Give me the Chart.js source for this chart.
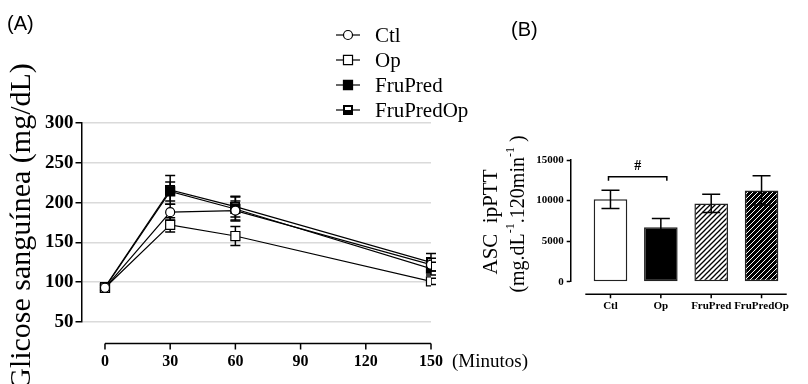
<!DOCTYPE html>
<html>
<head>
<meta charset="utf-8">
<script src="https://cdn.jsdelivr.net/npm/chart.js@4.4.0/dist/chart.umd.min.js"></script>
<style>
  body { margin: 0; background: #fff; width: 808px; height: 384px; position: relative; overflow: hidden; }
  #chartA { position: absolute; left: 0; top: 0; }
  #chartB { position: absolute; left: 480px; top: 0; }
</style>
</head>
<body>
<canvas id="chartA" width="560" height="384"></canvas>
<canvas id="chartB" width="328" height="384"></canvas>
<script>
// ---- data ----
const groups = ["Ctl", "Op", "FruPred", "FruPredOp"];

// (A) glucose tolerance curve
const minutes = [0, 30, 60, 150];
const timeTicks = [0, 30, 60, 90, 120, 150];
const glucoseTicks = [50, 100, 150, 200, 250, 300];
const ctlMean = [93, 188, 190, 122];
const ctlErr = [3, 10, 12, 8];
const opMean = [93, 172, 158, 101];
const opErr = [3, 9, 12, 4];
const fruPredMean = [93, 214, 192, 117];
const fruPredErr = [3, 12, 15, 8];
const fruPredOpMean = [94, 216, 195, 125];
const fruPredOpErr = [3, 18, 13, 11];

// (B) area under the curve
const aucMean = [10150, 6700, 9650, 11250];
const aucErr = [1130, 1100, 1130, 1800];
const aucTicks = [0, 5000, 10000, 15000];
const sigPairs = [[0, 1, "#", 12950]];

const SERIF = "'Liberation Serif', 'Times New Roman', serif";
const SANS = "'Liberation Sans', Arial, sans-serif";
Chart.defaults.font.family = SERIF;
Chart.defaults.color = "#000";

// half black / half white square marker for FruPredOp
function halfSquare() {
  const c = document.createElement("canvas");
  c.width = 10; c.height = 10;
  const g = c.getContext("2d");
  g.fillStyle = "#000";
  g.fillRect(0, 0, 10, 10);
  g.fillStyle = "#fff";
  g.fillRect(2, 2, 6, 3);
  return c;
}
const halfMarker = halfSquare();

const seriesA = [
  { mean: ctlMean, err: ctlErr, style: "circle", radius: 4.5, fill: "#fff" },
  { mean: opMean, err: opErr, style: "rect", radius: 6.4, fill: "#fff" },
  { mean: fruPredMean, err: fruPredErr, style: "rect", radius: 6.4, fill: "#000" },
  { mean: fruPredOpMean, err: fruPredOpErr, style: halfMarker, radius: 5, fill: "#000" },
];

const errorBarsA = {
  id: "errorBarsA",
  beforeDatasetsDraw(chart) {
    const ctx = chart.ctx;
    const x = chart.scales.x, y = chart.scales.y;
    ctx.save();
    ctx.strokeStyle = "#000";
    ctx.lineWidth = 1.5;
    seriesA.forEach((s) => {
      minutes.forEach((m, i) => {
        const px = x.getPixelForValue(m);
        const top = y.getPixelForValue(s.mean[i] + s.err[i]);
        const bot = y.getPixelForValue(s.mean[i] - s.err[i]);
        ctx.beginPath();
        ctx.moveTo(px, top); ctx.lineTo(px, bot);
        ctx.moveTo(px - 5, top); ctx.lineTo(px + 5, top);
        ctx.moveTo(px - 5, bot); ctx.lineTo(px + 5, bot);
        ctx.stroke();
      });
    });
    ctx.restore();
  },
};

const decorA = {
  id: "decorA",
  afterDraw(chart) {
    const ctx = chart.ctx;
    const x = chart.scales.x;
    const area = chart.chartArea;
    ctx.save();
    // panel label
    ctx.fillStyle = "#000";
    ctx.font = "20px " + SANS;
    ctx.textBaseline = "middle";
    ctx.textAlign = "left";
    ctx.fillText("(A)", 7, 24);

    // detached x axis
    const axisY = area.bottom + 21.5;
    ctx.strokeStyle = "#000";
    ctx.lineWidth = 1.5;
    ctx.beginPath();
    ctx.moveTo(x.getPixelForValue(timeTicks[0]), axisY);
    ctx.lineTo(x.getPixelForValue(timeTicks[timeTicks.length - 1]), axisY);
    timeTicks.forEach((t) => {
      const px = x.getPixelForValue(t);
      ctx.moveTo(px, axisY);
      ctx.lineTo(px, axisY + 6);
    });
    ctx.stroke();
    ctx.font = "19px " + SERIF;
    ctx.fillText("(Minutos)", 452, 362);

    // y title
    ctx.save();
    ctx.translate(22, (area.top + area.bottom) / 2 + 4);
    ctx.rotate(-Math.PI / 2);
    ctx.textAlign = "center";
    ctx.font = "30px " + SERIF;
    ctx.fillText("Glicose sanguínea (mg/dL)", 0, 0);
    ctx.restore();

    // legend
    const rows = [35, 60, 85, 110];
    groups.forEach((name, i) => {
      const s = seriesA[i];
      const ly = rows[i];
      ctx.strokeStyle = "#000";
      ctx.lineWidth = 1.2;
      ctx.beginPath();
      ctx.moveTo(336, ly); ctx.lineTo(360, ly);
      ctx.stroke();
      ctx.fillStyle = s.fill;
      Chart.helpers.drawPoint(ctx, { pointStyle: s.style, radius: s.radius, rotation: 0, borderWidth: 1.2 }, 348, ly);
      ctx.fillStyle = "#000";
      ctx.font = "21px " + SERIF;
      ctx.textAlign = "left";
      ctx.fillText(name, 375, ly + 1);
    });
    ctx.restore();
  },
};

new Chart(document.getElementById("chartA"), {
  type: "line",
  data: {
    datasets: seriesA.map((s, k) => ({
      label: groups[k],
      data: minutes.map((m, i) => ({ x: m, y: s.mean[i] })),
      borderColor: "#000",
      borderWidth: 1.2,
      pointStyle: s.style,
      pointRadius: s.radius,
      pointBackgroundColor: s.fill,
      pointBorderColor: "#000",
      pointBorderWidth: 1.2,
      tension: 0,
    })),
  },
  options: {
    responsive: false,
    animation: false,
    devicePixelRatio: 1,
    layout: { padding: { top: 123, right: 129, left: 0, bottom: 0 } },
    plugins: { legend: { display: false }, tooltip: { enabled: false } },
    scales: {
      x: {
        type: "linear",
        min: -10.8,
        max: 150,
        grid: { display: false, drawTicks: false },
        border: { display: false },
        afterBuildTicks: (scale) => { scale.ticks = timeTicks.map((v) => ({ value: v })); },
        afterFit: (scale) => { scale.height = 62; },
        ticks: { padding: 30, autoSkip: false, maxRotation: 0, font: { size: 16, weight: "bold" } },
      },
      y: {
        min: 50,
        max: 300,
        grid: { color: "#dadada", lineWidth: 1.5, tickLength: 6, tickColor: "#000", tickWidth: 1.5 },
        border: { display: true, color: "#000", width: 1.5 },
        afterBuildTicks: (scale) => { scale.ticks = glucoseTicks.map((v) => ({ value: v })); },
        afterFit: (scale) => { scale.width = 81.5; },
        ticks: { padding: 2, font: { size: 19, weight: "bold" } },
      },
    },
  },
  plugins: [errorBarsA, decorA],
});

// ---- panel B ----
const ctxB = document.getElementById("chartB").getContext("2d");
function hatch(bg, fg, lw) {
  const s = 5;
  const c = document.createElement("canvas");
  c.width = s; c.height = s;
  const g = c.getContext("2d");
  g.fillStyle = bg;
  g.fillRect(0, 0, s, s);
  g.strokeStyle = fg;
  g.lineWidth = lw;
  g.beginPath();
  g.moveTo(-1, s + 1); g.lineTo(s + 1, -1);
  g.moveTo(-s / 2, s / 2); g.lineTo(s / 2, -s / 2);
  g.moveTo(s / 2, s * 1.5); g.lineTo(s * 1.5, s / 2);
  g.stroke();
  return ctxB.createPattern(c, "repeat");
}
const barFills = ["#fff", "#000", hatch("#fff", "#000", 1.3), hatch("#000", "#fff", 1)];

const errorBarsB = {
  id: "errorBarsB",
  afterDatasetsDraw(chart) {
    const ctx = chart.ctx;
    const x = chart.scales.x, y = chart.scales.y;
    ctx.save();
    ctx.strokeStyle = "#000";
    ctx.lineWidth = 1.5;
    aucMean.forEach((v, i) => {
      const px = x.getPixelForValue(i + 1);
      const top = y.getPixelForValue(v + aucErr[i]);
      const bot = y.getPixelForValue(v - aucErr[i]);
      ctx.beginPath();
      ctx.moveTo(px, top); ctx.lineTo(px, bot);
      ctx.moveTo(px - 9, top); ctx.lineTo(px + 9, top);
      ctx.moveTo(px - 9, bot); ctx.lineTo(px + 9, bot);
      ctx.stroke();
    });
    ctx.restore();
  },
};

const decorB = {
  id: "decorB",
  afterDraw(chart) {
    const ctx = chart.ctx;
    const x = chart.scales.x, y = chart.scales.y;
    const area = chart.chartArea;
    ctx.save();
    ctx.fillStyle = "#000";
    ctx.font = "20px " + SANS;
    ctx.textBaseline = "middle";
    ctx.textAlign = "left";
    ctx.fillText("(B)", 31, 30);

    // detached x axis
    const axisY = area.bottom + 12.6;
    ctx.strokeStyle = "#000";
    ctx.lineWidth = 1.5;
    ctx.beginPath();
    ctx.moveTo(x.getPixelForValue(0.5), axisY);
    ctx.lineTo(x.getPixelForValue(groups.length + 0.5), axisY);
    groups.forEach((g, i) => {
      const px = x.getPixelForValue(i + 1);
      ctx.moveTo(px, axisY);
      ctx.lineTo(px, axisY + 4);
    });
    ctx.stroke();

    // significance bracket
    sigPairs.forEach(([a, b, label, val]) => {
      const x1 = x.getPixelForValue(a + 1) - 2;
      const x2 = x.getPixelForValue(b + 1) + 6;
      const py = y.getPixelForValue(val);
      ctx.beginPath();
      ctx.moveTo(x1, py + 4); ctx.lineTo(x1, py); ctx.lineTo(x2, py); ctx.lineTo(x2, py + 4);
      ctx.stroke();
      ctx.textAlign = "center";
      ctx.font = "bold 14px " + SERIF;
      ctx.fillText(label, (x1 + x2) / 2, py - 10);
    });

    // y title, two lines
    ctx.save();
    ctx.translate(11, 222);
    ctx.rotate(-Math.PI / 2);
    ctx.textAlign = "center";
    ctx.font = "21px " + SERIF;
    ctx.fillText("ASC  ipPTT", 0, 0);
    ctx.restore();

    const parts = [
      ["(mg.dL", false], ["-1", true], [".120min", false], ["-1", true], [" )", false],
    ];
    const big = "20px " + SERIF, small = "12px " + SERIF;
    let total = 0;
    parts.forEach(([t, sup]) => { ctx.font = sup ? small : big; total += ctx.measureText(t).width; });
    ctx.save();
    ctx.translate(39, 214);
    ctx.rotate(-Math.PI / 2);
    ctx.textAlign = "left";
    let cx = -total / 2;
    parts.forEach(([t, sup]) => {
      ctx.font = sup ? small : big;
      ctx.fillText(t, cx, sup ? -8 : 0);
      cx += ctx.measureText(t).width;
    });
    ctx.restore();
    ctx.restore();
  },
};

new Chart(ctxB, {
  type: "bar",
  data: {
    datasets: [{
      data: aucMean.map((v, i) => ({ x: i + 1, y: v })),
      backgroundColor: barFills,
      borderColor: "#222",
      borderWidth: 1.5,
      borderSkipped: false,
      barPercentage: 0.667,
      categoryPercentage: 1,
    }],
  },
  options: {
    responsive: false,
    animation: false,
    devicePixelRatio: 1,
    layout: { padding: { top: 160, right: 9, left: 0, bottom: 0 } },
    plugins: { legend: { display: false }, tooltip: { enabled: false } },
    scales: {
      x: {
        type: "linear",
        offset: false,
        min: 0.21,
        max: 4.5,
        grid: { display: false, drawTicks: false },
        border: { display: false },
        afterBuildTicks: (scale) => { scale.ticks = groups.map((g, i) => ({ value: i + 1 })); },
        afterFit: (scale) => { scale.height = 102.3; },
        ticks: {
          padding: 18,
          autoSkip: false,
          maxRotation: 0,
          font: { size: 11, weight: "bold" },
          callback: (v) => groups[v - 1],
        },
      },
      y: {
        min: 0,
        max: 15000,
        grid: { drawOnChartArea: false, tickLength: 4, tickColor: "#000", tickWidth: 1.5 },
        border: { display: true, color: "#000", width: 1.5 },
        afterBuildTicks: (scale) => { scale.ticks = aucTicks.map((v) => ({ value: v })); },
        afterFit: (scale) => { scale.width = 90.7; },
        ticks: { padding: 3, font: { size: 11, weight: "bold" }, callback: (v) => String(v) },
      },
    },
  },
  plugins: [errorBarsB, decorB],
});
</script>
</body>
</html>
